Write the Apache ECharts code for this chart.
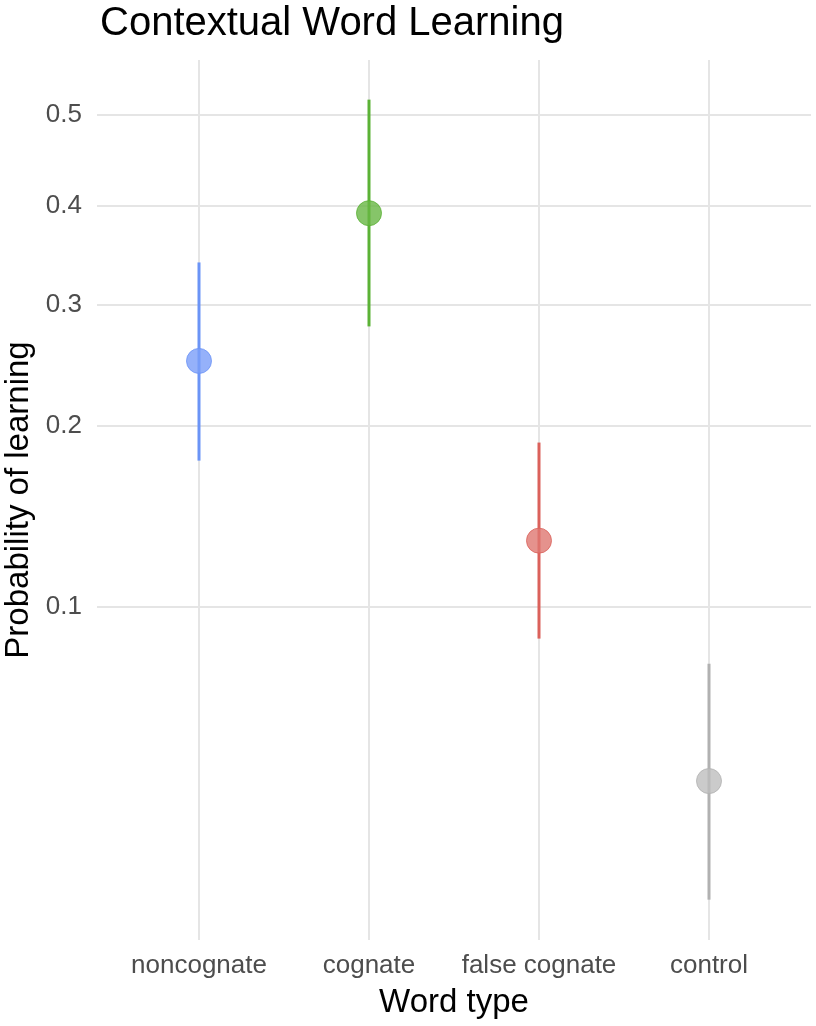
<!DOCTYPE html>
<html>
<head>
<meta charset="utf-8">
<script src="https://cdn.jsdelivr.net/npm/echarts@6/dist/echarts.min.js"></script>
<style>html,body{margin:0;padding:0;background:#fff}#c{width:816px;height:1026px}</style>
</head>
<body>
<div id="c"></div>
<script>
// Data (probabilities)
const categories = ['noncognate', 'cognate', 'false cognate', 'control'];
const estimate = [0.250, 0.392, 0.130, 0.0486];
const lower = [0.176, 0.280, 0.088, 0.0292];
const upper = [0.341, 0.517, 0.188, 0.0794];
const tickValues = [0.1, 0.2, 0.3, 0.4, 0.5];
const pointColors = ['#7a9ef9', '#68b744', '#de7770', '#bebebe'];
const lineColors = ['#6b94f6', '#5bb236', '#db615b', '#b1b1b1'];

const logit = p => Math.log(p / (1 - p));
const invLogit = v => 1 / (1 + Math.exp(-v));

const FONT = '"Liberation Sans", Arial, sans-serif';
const chart = echarts.init(document.getElementById('c'), null, {renderer: 'canvas'});

const barData = categories.map((c, i) => [i, logit(lower[i]), logit(upper[i])]);
const pointData = categories.map((c, i) => ({
  value: [i, logit(estimate[i])],
  itemStyle: {color: pointColors[i], borderColor: lineColors[i], borderWidth: 1}
}));

chart.setOption({
  animation: false,
  backgroundColor: '#fff',
  title: {
    text: 'Contextual Word Learning',
    left: 95, top: -1,
    textStyle: {fontFamily: FONT, fontSize: 40, fontWeight: 'normal', color: '#000'}
  },
  grid: {left: 97, right: 5, top: 60, bottom: 86, containLabel: false, outerBoundsMode: 'none'},
  xAxis: {
    type: 'value', min: -0.6, max: 3.6,
    name: 'Word type', nameLocation: 'middle', nameGap: 46,
    nameTextStyle: {fontFamily: FONT, fontSize: 33, color: '#000'},
    axisLine: {show: false},
    axisTick: {show: false, customValues: [0, 1, 2, 3]},
    axisLabel: {
      customValues: [0, 1, 2, 3], margin: 13,
      fontFamily: FONT, fontSize: 26, color: '#4d4d4d',
      formatter: v => categories[Math.round(v)]
    },
    splitLine: {show: true, lineStyle: {color: '#e5e5e5', width: 2}}
  },
  yAxis: {
    type: 'value', min: -3.684, max: 0.245,
    name: 'Probability of learning', nameLocation: 'middle', nameGap: 60,
    nameTextStyle: {fontFamily: FONT, fontSize: 33, color: '#000'},
    axisLine: {show: false},
    axisTick: {show: false, customValues: tickValues.map(logit)},
    axisLabel: {
      customValues: tickValues.map(logit), margin: 15,
      fontFamily: FONT, fontSize: 26, color: '#4d4d4d',
      formatter: v => invLogit(v).toFixed(1)
    },
    splitLine: {show: true, lineStyle: {color: '#e5e5e5', width: 2}}
  },
  series: [
    {
      type: 'custom',
      data: barData,
      encode: {x: 0, y: [1, 2]},
      renderItem: (params, api) => {
        const i = api.value(0);
        const a = api.coord([i, api.value(1)]);
        const b = api.coord([i, api.value(2)]);
        return {
          type: 'line',
          shape: {x1: a[0], y1: a[1], x2: b[0], y2: b[1]},
          style: {stroke: lineColors[i], lineWidth: 3}
        };
      },
      z: 2
    },
    {
      type: 'scatter',
      data: pointData,
      symbol: 'circle',
      symbolSize: 25,
      z: 3
    }
  ]
});
</script>
</body>
</html>
